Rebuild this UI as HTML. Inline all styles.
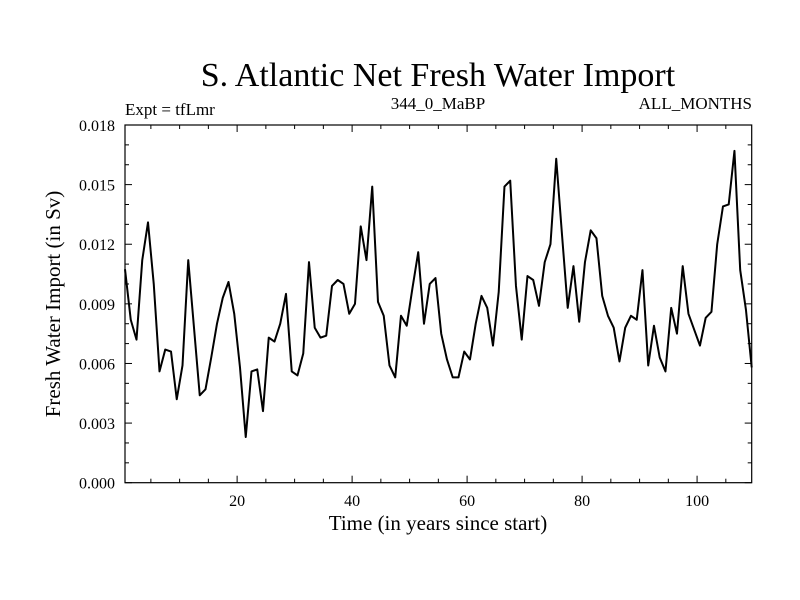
<!DOCTYPE html>
<html><head><meta charset="utf-8"><style>
body{margin:0;background:#fff}
svg{display:block;font-family:"Liberation Serif",serif}
</style></head><body>
<svg id="chart" width="800" height="600" xmlns="http://www.w3.org/2000/svg">
<text x="438" y="86" font-size="34" text-anchor="middle">S. Atlantic Net Fresh Water Import</text>
<text x="125" y="115" font-size="17">Expt = tfLmr</text>
<text x="438" y="109" font-size="17" text-anchor="middle">344_0_MaBP</text>
<text x="752" y="109" font-size="17" text-anchor="end">ALL_MONTHS</text>
<text x="438" y="530" font-size="21" text-anchor="middle">Time (in years since start)</text>
<text transform="translate(60,304) rotate(-90)" font-size="21" text-anchor="middle">Fresh Water Import (in Sv)</text>
<g id="axes"></g>
<path id="line" fill="none" stroke="#000" stroke-width="2" stroke-linejoin="round"/>
<rect x="125" y="125" width="626.7" height="357.7" fill="none" stroke="#000" stroke-width="1.2"/>
</svg>
<script>
const values = [0.01074,0.0082,0.0072,0.0112,0.0131,0.0100,0.0056,0.0067,0.0066,0.0042,
0.0059,0.0112,0.0078,0.0044,0.0047,0.0063,0.0080,0.0093,0.0101,0.0085,
0.0058,0.0023,0.0056,0.0057,0.0036,0.0073,0.0071,0.0080,0.0095,0.0056,
0.0054,0.0065,0.0111,0.0078,0.0073,0.0074,0.0099,0.0102,0.0100,0.0085,
0.0090,0.0129,0.0112,0.0149,0.0091,0.0084,0.0059,0.0053,0.0084,0.0079,
0.0098,0.0116,0.0080,0.0100,0.0103,
0.0075,0.0062,0.0053,0.0053,0.0066,0.0062,0.0080,0.0094,0.0088,0.0069,
0.0096,0.0149,0.0152,0.0099,0.0072,0.0104,0.0102,0.0089,0.0111,0.0120,
0.0163,0.0125,0.0088,0.0109,0.0081,0.0111,0.0127,0.0123,0.0094,0.0084,
0.0078,0.0061,0.0078,0.0084,0.0082,0.0107,0.0059,0.0079,0.0063,0.0056,
0.0088,0.0075,0.0109,0.0085,0.0077,0.0069,0.0083,0.0086,0.0120,0.0139,
0.0140,0.0167,0.0107,0.0087,0.0058];
const years = values.map((v,i)=>i+0.5);
const xTicks = [20,40,60,80,100];
const yTicks = [0.000,0.003,0.006,0.009,0.012,0.015,0.018];
const X0=125,X1=751.7,Y0=482.7,Y1=125,XMIN=0.5,XMAX=109.5,YMIN=0,YMAX=0.018;
const sx=t=>X0+(t-XMIN)/(XMAX-XMIN)*(X1-X0);
const sy=v=>Y0-(v-YMIN)/(YMAX-YMIN)*(Y0-Y1);
const NS="http://www.w3.org/2000/svg";
const axes=document.getElementById('axes');
function line(x1,y1,x2,y2){const l=document.createElementNS(NS,'line');
l.setAttribute('x1',x1);l.setAttribute('y1',y1);l.setAttribute('x2',x2);l.setAttribute('y2',y2);
l.setAttribute('stroke','#000');l.setAttribute('stroke-width','1');


axes.appendChild(l);}
function text(x,y,s,anchor,name){const t=document.createElementNS(NS,'text');
t.setAttribute('x',x);t.setAttribute('y',y);t.setAttribute('font-size','16');t.setAttribute('text-anchor',anchor);
t.textContent=s;


axes.appendChild(t);}
for(let t=5;t<XMAX;t+=5){const x=sx(t);const L=(t%20===0)?7:4;line(x,Y0,x,Y0-L);line(x,Y1,x,Y1+L);}
xTicks.forEach(t=>text(sx(t),506,String(t),'middle','x-tick-label'));
for(let k=0;k<=18;k++){const v=k*0.001;const y=sy(v);const L=(k%3===0)?7:4;line(X0,y,X0+L,y);line(X1,y,X1-L,y);}
yTicks.forEach(v=>text(115,sy(v)+6,v.toFixed(3),'end','y-tick-label'));
document.getElementById('line').setAttribute('d',values.map((v,i)=>(i?'L':'M')+sx(years[i]).toFixed(2)+','+sy(v).toFixed(2)).join(''));
</script>
</body></html>
